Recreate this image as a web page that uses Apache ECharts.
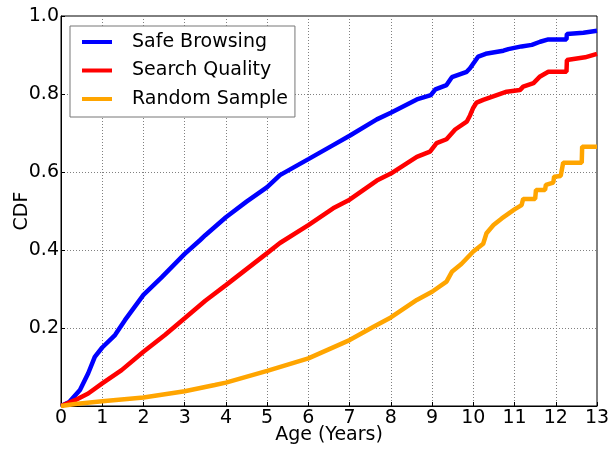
<!DOCTYPE html>
<html>
<head>
<meta charset="utf-8">
<script src="https://cdn.jsdelivr.net/npm/echarts@6/dist/echarts.min.js"></script>
<style>
html,body{margin:0;padding:0;background:#fff;}
#chart{width:610px;height:450px;}
</style>
</head>
<body>
<div id="chart"></div>
<script>
// Series names
const seriesNames = ['Safe Browsing', 'Search Quality', 'Random Sample'];
// Age (years) ticks
const xTicks = [0,1,2,3,4,5,6,7,8,9,10,11,12,13];
const yTicks = [0.2,0.4,0.6,0.8,1.0];

// [age, cdf] pairs
const safeBrowsing = [
  [0,0],[0.2,0.01],[0.46,0.041],[0.66,0.084],[0.82,0.126],[1.0,0.150],[1.31,0.182],
  [1.55,0.22],[2.0,0.285],[2.44,0.33],[3.0,0.39],[3.37,0.425],[3.5,0.438],[4.0,0.484],[4.5,0.524],
  [5.0,0.561],[5.31,0.592],[6.0,0.633],[6.6,0.669],[7.0,0.693],[7.66,0.735],[8.0,0.752],
  [8.63,0.786],[8.97,0.797],[9.08,0.812],[9.35,0.823],[9.48,0.843],[9.84,0.857],[9.92,0.866],
  [10.12,0.896],[10.3,0.903],[10.73,0.911],[10.85,0.915],[11.17,0.922],[11.42,0.926],
  [11.62,0.934],[11.82,0.94],[12.26,0.94],[12.27,0.954],[12.67,0.957],[13.0,0.962]
];
const searchQuality = [
  [0,0],[0.34,0.015],[0.66,0.032],[1.0,0.058],[1.47,0.092],[2.0,0.139],[2.52,0.182],
  [3.0,0.225],[3.5,0.27],[4.0,0.31],[5.0,0.392],[5.31,0.418],[6.0,0.464],[6.6,0.507],
  [7.0,0.529],[7.66,0.578],[8.0,0.596],[8.63,0.639],[8.95,0.652],[9.11,0.674],[9.35,0.684],
  [9.56,0.709],[9.84,0.729],[9.92,0.745],[10.0,0.765],[10.08,0.778],[10.24,0.785],
  [10.81,0.806],[11.13,0.810],[11.21,0.819],[11.46,0.828],[11.62,0.845],[11.82,0.857],
  [12.26,0.857],[12.27,0.887],[12.71,0.894],[13.0,0.903]
];
const randomSample = [
  [0,0],[0.34,0.005],[1,0.012],[2,0.022],[3,0.038],[3.73,0.054],[4,0.060],[5,0.090],
  [6,0.122],[7,0.169],[7.58,0.203],[8,0.227],[8.63,0.272],[9,0.293],[9.35,0.319],
  [9.48,0.344],[9.71,0.364],[10,0.396],[10.24,0.416],[10.32,0.443],[10.49,0.464],
  [10.69,0.481],[11,0.504],[11.17,0.515],[11.21,0.531],[11.5,0.531],[11.52,0.554],
  [11.74,0.554],[11.76,0.567],[11.94,0.573],[11.96,0.588],[12.12,0.59],[12.18,0.624],
  [12.63,0.624],[12.64,0.665],[13,0.665]
];

const colors = ['#0000ff', '#ff0000', '#ffa500'];
const dataSets = [safeBrowsing, searchQuality, randomSample];
const FONT = 'DejaVu Sans';

const chart = echarts.init(document.getElementById('chart'), null, {renderer: 'canvas'});
chart.setOption({
  animation: false,
  backgroundColor: '#ffffff',
  textStyle: {fontFamily: FONT, color: '#000'},
  grid: {left: 61, right: 13, top: 16, bottom: 44, containLabel: false, outerBoundsMode: 'none',
    show: true, borderColor: '#000', borderWidth: 1, backgroundColor: 'transparent'},
  legend: {
    orient: 'vertical', left: 70, top: 26,
    padding: [6, 7, 8, 12],
    backgroundColor: '#fff', borderColor: '#777', borderWidth: 1, borderRadius: 0,
    icon: 'rect', itemWidth: 30, itemHeight: 4, itemGap: 8.5,
    textStyle: {fontFamily: FONT, fontSize: 19, color: '#000', lineHeight: 20, padding: [0,0,0,15]},
    data: seriesNames
  },
  xAxis: {
    type: 'value', min: 0, max: 13, interval: 1,
    name: 'Age (Years)', nameLocation: 'middle', nameGap: 20, nameMoveOverlap: false,
    nameTextStyle: {fontFamily: FONT, fontSize: 19, color: '#000'},
    axisLine: {show: true, lineStyle: {color: '#000', width: 1}},
    axisTick: {show: true, inside: true, length: 4, lineStyle: {color: '#000'}},
    axisLabel: {fontFamily: FONT, fontSize: 19, color: '#000', margin: 3,
      formatter: v => xTicks.includes(v) ? String(v) : ''},
    splitLine: {show: true, lineStyle: {color: '#808080', type: [1, 2], width: 1}}
  },
  yAxis: {
    type: 'value', min: 0, max: 1, interval: 0.2,
    name: 'CDF', nameLocation: 'middle', nameGap: 29, nameRotate: 90, nameMoveOverlap: false,
    nameTextStyle: {fontFamily: FONT, fontSize: 19, color: '#000'},
    axisLine: {show: true, lineStyle: {color: '#000', width: 1}},
    axisTick: {show: true, inside: true, length: 4, lineStyle: {color: '#000'}},
    axisLabel: {fontFamily: FONT, fontSize: 19, color: '#000', margin: 2,
      formatter: v => yTicks.some(t => Math.abs(t - v) < 1e-9) ? v.toFixed(1) : ''},
    splitLine: {show: true, lineStyle: {color: '#808080', type: [1, 2], width: 1}}
  },
  series: seriesNames.map((name, i) => ({
    name: name, type: 'line', data: dataSets[i], showSymbol: false, symbol: 'none',
    color: colors[i], lineStyle: {color: colors[i], width: 4.5}, z: 2 + i
  }))
});
</script>
</body>
</html>
